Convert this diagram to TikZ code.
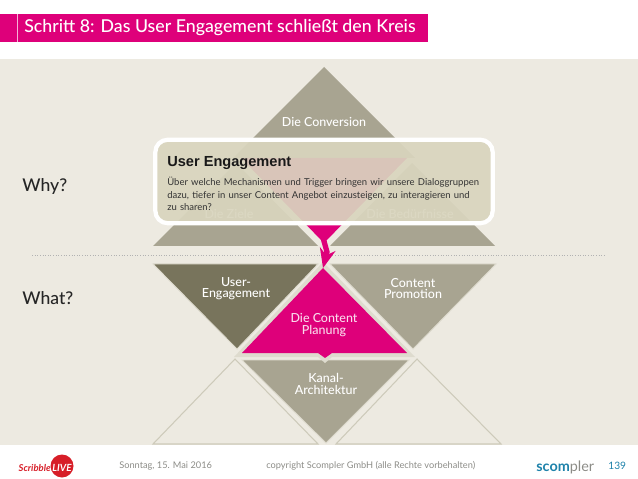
\documentclass[tikz,border=0pt]{standalone}
\usepackage{fontspec}
\usepackage{tikz}
\usetikzlibrary{arrows.meta, positioning}
\setmainfont{Lato}
\newfontfamily\arialfont{Liberation Sans}
\newfontfamily\latomed{Lato Medium}
\definecolor{slidebg}{RGB}{237,234,225}
\definecolor{chainpink}{RGB}{222,0,122}
\definecolor{taupe}{RGB}{168,164,145}
\definecolor{taupedark}{RGB}{120,116,92}
\definecolor{edgelight}{RGB}{222,219,206}
\definecolor{edgeline}{RGB}{205,202,186}
\definecolor{boxfill}{RGB}{217,213,190}
\definecolor{footgray}{RGB}{140,140,135}
\definecolor{scomblue}{RGB}{30,130,170}
\definecolor{liveRed}{RGB}{215,30,40}

\begin{document}
\begin{tikzpicture}[
    x=0.02cm, y=-0.02cm,
    tri/.style={fill=taupe, draw=edgelight, line width=0.5pt},
    lbl/.style={
        text=white,
        font=\latomed\fontsize{7.1}{6.4}\selectfont,
        align=center
    },
    sidelbl/.style={
        anchor=west, inner sep=0pt,
        text=black!85,
        font=\latomed\fontsize{10}{11}\selectfont
    },
    foot/.style={
        anchor=west, inner sep=0pt,
        text=footgray,
        font=\fontsize{5.25}{6}\selectfont
    }
]
\useasboundingbox (0,0) rectangle (638,479);
\fill[slidebg] (0,59) rectangle (638,445);

% header
\fill[chainpink] (0,14) rectangle (428,42);
\draw[white!70!chainpink, line width=0.3pt] (17,14) -- (17,42);
\node[anchor=west, inner sep=0pt, text=white, font=\latomed\fontsize{10.1}{12}\selectfont]
    (title) at (24,28)
    {Schritt 8: Das User Engagement schließt den Kreis};

% why part
\fill[tri, draw=none] (324,67) -- (415,158) -- (233,158) -- cycle;
\fill[tri, draw=none] (236,163) -- (318,246) -- (153,246) -- cycle;
\fill[tri, draw=none] (412,163) -- (495,246) -- (330,246) -- cycle;
\fill[chainpink] (241,158) -- (407,158) -- (324,243) -- cycle;
\node[lbl] (conv) at (324,122) {Die Conversion};
\node[lbl] (ziele) at (229,214) {Die Ziele};
\node[lbl] (bed) at (410,214) {Die Bedürfnisse};

% what part
\fill[tri, fill=taupedark] (153,264) -- (318,264) -- (237,349) -- cycle;
\fill[tri] (330,264) -- (496,264) -- (413,349) -- cycle;
\fill[tri] (242,360) -- (409,360) -- (326,443) -- cycle;
\draw[edgeline, line width=0.6pt] (235,359) -- (318,444) -- (153,444) -- cycle;
\draw[edgeline, line width=0.6pt] (417,359) -- (501,444) -- (336,444) -- cycle;
\fill[edgelight] (323,262) -- (415,357) -- (332,357) -- (325,363) -- (318,357) -- (234,357) -- cycle;
\fill[chainpink] (323,268) -- (407,353) -- (332,353) -- (325,358) -- (318,353) -- (242,353) -- cycle;
\node[lbl] (user) at (236,288.5) {User-\\Engagement};
\node[lbl] (promo) at (413,288.5) {Content\\Promotion};
\node[lbl, text=white!85!chainpink] (plan) at (324,325)
    {\fontsize{7.1}{8.6}\selectfont Die Content\\Planung};
\node[lbl] (kanal) at (326,384) {Kanal-\\Architektur};

% divider
\draw[black!30, line width=0.5pt, densely dotted] (32,255) -- (606,255);
\node[sidelbl] (why) at (22,187) {Why?};
\node[sidelbl] (what) at (22,298) {What?};

% arrow
\coordinate (from) at (322,234);
\coordinate (to) at (323,268);
\draw[-{Stealth[length=11pt,width=9pt]}, chainpink, line width=3pt]
    (from) -- (327,252) -- (to);

% popup
\node[draw=white, line width=2.4pt, fill=boxfill, fill opacity=0.93,
      rounded corners=7pt, minimum width=192pt, minimum height=47.5pt,
      inner sep=0pt]
    (popup) at (324,181.5) {};
\node[anchor=west, inner sep=0pt, font=\arialfont\fontsize{8.3}{10}\selectfont\bfseries, text=black!90]
    (ptitle) at (167,163) {User Engagement};
\node[anchor=north west, text width=190pt, inner sep=0pt, text=black!80,
      font=\fontsize{5.4}{7.1}\selectfont]
    (ptext) at (167,177)
    {Über welche Mechanismen und Trigger bringen wir unsere Dialoggruppen\\
    dazu, tiefer in unser Content Angebot einzusteigen, zu interagieren und\\
    zu sharen?};

% footer
\node[foot] (date) at (119,466) {Sonntag, 15. Mai 2016};
\node[foot] (copy) at (266,466) {copyright Scompler GmbH (alle Rechte vorbehalten)};
\fill[liveRed] (62,466) circle (11.5);
\node[anchor=east, inner sep=0pt, text=liveRed, font=\fontsize{5.4}{6}\selectfont\bfseries\itshape]
    (scribble) at (51,468) {Scribble};
\node[anchor=center, inner sep=0pt, text=white, font=\fontsize{5.6}{6}\selectfont\bfseries\itshape]
    (live) at (62,468) {LIVE};
\node[anchor=west, inner sep=0pt, text=scomblue, font=\fontsize{8.2}{10}\selectfont]
    (scompler) at (536,467) {\textbf{scom}\textcolor{footgray}{pler}};
\node[anchor=west, inner sep=0pt, text=scomblue, font=\fontsize{5.8}{7}\selectfont]
    (page) at (608,466) {139};
\end{tikzpicture}
\end{document}
